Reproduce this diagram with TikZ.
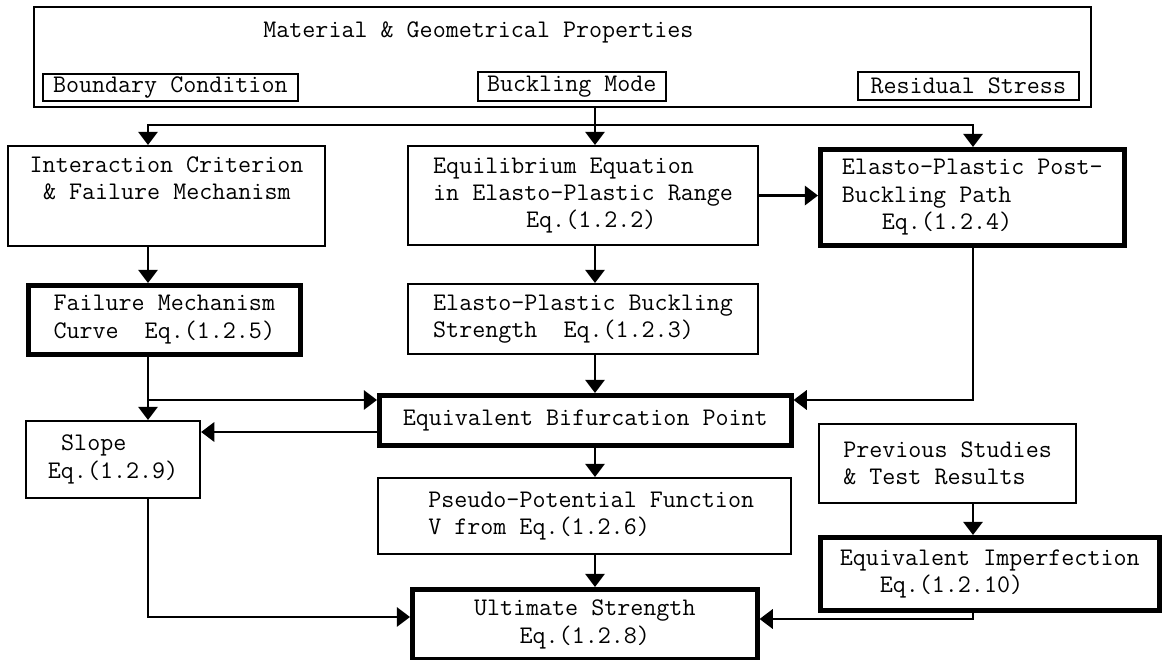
\documentclass[tikz,border=0pt]{standalone}
\usepackage{fontspec}
\usetikzlibrary{arrows.meta,positioning,calc}

\newcommand{\chartfont}{\ttfamily\fontsize{14.4}{15.6}\selectfont}
\newcommand{\chskip}[1]{\hspace*{#1\dimexpr0.525em\relax}}

\tikzset{
  propframe/.style={draw, line width=1.4pt, anchor=north west, minimum width=21.14cm, minimum height=2cm, inner sep=0pt},
  tag/.style={draw, line width=0.9pt, anchor=north west, inner sep=0pt, font=\chartfont},
  box/.style={draw, line width=1.2pt, anchor=north west, align=left, inner xsep=0.2cm, inner ysep=0pt, font=\chartfont},
  heavy/.style={box, line width=2.6pt},
  flow/.style={-{Triangle[length=7.5pt,width=11pt]}, line width=1.3pt},
  wire/.style={line width=1.3pt}
}

\begin{document}
\begin{tikzpicture}

\useasboundingbox (0,0) rectangle (23.28,-13.2);

% input block
\node[propframe] (props) at (0.66,-0.12) {};
\node[font=\chartfont, anchor=west, inner sep=0pt] (proptitle) at (5.26,-0.64) {Material \& Geometrical Properties};
\node[tag, minimum width=5.1cm, minimum height=0.54cm] (boundary) at (0.84,-1.46) {Boundary Condition};
\node[tag, minimum width=3.76cm, minimum height=0.58cm] (mode) at (9.54,-1.42) {Buckling Mode};
\node[tag, minimum width=4.42cm, minimum height=0.56cm] (residual) at (17.14,-1.42) {Residual Stress};

% first row
\node[box, minimum width=6.34cm, minimum height=2cm] (inter) at (0.14,-2.9) {Interaction Criterion\\\chskip{1}\&~Failure Mechanism\\\strut};
\node[box, minimum width=7cm, minimum height=1.98cm] (equil) at (8.14,-2.9) {Equilibrium Equation\\in Elasto-Plastic Range\\\chskip{7}Eq.(1.2.2)};
\node[heavy, minimum width=6.08cm, minimum height=1.92cm] (post) at (16.36,-2.94) {Elasto-Plastic Post-\\Buckling Path\\\chskip{3}Eq.(1.2.4)};

% second row
\node[heavy, minimum width=5.44cm, minimum height=1.38cm] (failure) at (0.52,-5.66) {Failure Mechanism\\Curve~~Eq.(1.2.5)};
\node[box, minimum width=7cm, minimum height=1.4cm] (strength) at (8.14,-5.66) {Elasto-Plastic Buckling\\Strength~~Eq.(1.2.3)};

% bifurcation level
\node[heavy, minimum width=8.24cm, minimum height=1cm] (bifur) at (7.54,-7.86) {Equivalent Bifurcation Point};
\node[box, minimum width=3.48cm, minimum height=1.54cm] (slope) at (0.5,-8.4) {\chskip{1}Slope\\Eq.(1.2.9)};
\node[box, minimum width=5.14cm, minimum height=1.58cm] (prev) at (16.36,-8.46) {Previous Studies\\\&~Test Results};

% lower rows
\node[box, minimum width=8.26cm, minimum height=1.52cm] (pseudo) at (7.54,-9.54) {\chskip{1}Pseudo-Potential Function\\\chskip{1}V from Eq.(1.2.6)};
\node[heavy, minimum width=6.78cm, minimum height=1.46cm] (imperf) at (16.36,-10.7) {Equivalent Imperfection\\\chskip{3}Eq.(1.2.10)};
\node[heavy, align=center, minimum width=6.9cm, minimum height=1.4cm] (ult) at (8.2,-11.74) {Ultimate Strength\\Eq.(1.2.8)};

% vertical lanes and junctions
\coordinate (colA) at (2.96,0);
\coordinate (colB) at (11.9,0);
\coordinate (colC) at (19.46,0);
\coordinate (split) at (11.9,-2.5);
\coordinate (joinL) at (2.96,-8.0);
\coordinate (joinR) at (19.46,-8.0);
\coordinate (slopeIn) at (0,-8.64);
\coordinate (ultInL) at (0,-12.34);
\coordinate (ultInR) at (0,-12.38);

% connectors
\draw[wire] (props.south -| split) -- (split);
\draw[flow] (split) -| (inter.north -| colA);
\draw[flow] (split) -- (equil.north -| split);
\draw[flow] (split) -| (post.north -| colC);

\draw[flow] (inter.south -| colA) -- (failure.north -| colA);
\draw[flow] (equil.south -| colB) -- (strength.north -| colB);
\draw[flow] (equil.east) -- (post.west |- equil.east);

\draw[flow] (failure.south -| colA) -- (slope.north -| colA);
\draw[flow] (joinL) -- (bifur.west |- joinL);
\draw[flow] (strength.south -| colB) -- (bifur.north -| colB);
\draw[flow] (post.south -| colC) -- (joinR) -- (bifur.east |- joinR);
\draw[flow] (bifur.west |- slopeIn) -- (slope.east |- slopeIn);

\draw[flow] (bifur.south -| colB) -- (pseudo.north -| colB);
\draw[flow] (pseudo.south -| colB) -- (ult.north -| colB);
\draw[flow] (slope.south -| colA) |- (ult.west |- ultInL);
\draw[flow] (prev.south -| colC) -- (imperf.north -| colC);
\draw[flow] (imperf.south -| colC) |- (ult.east |- ultInR);

\end{tikzpicture}
\end{document}
